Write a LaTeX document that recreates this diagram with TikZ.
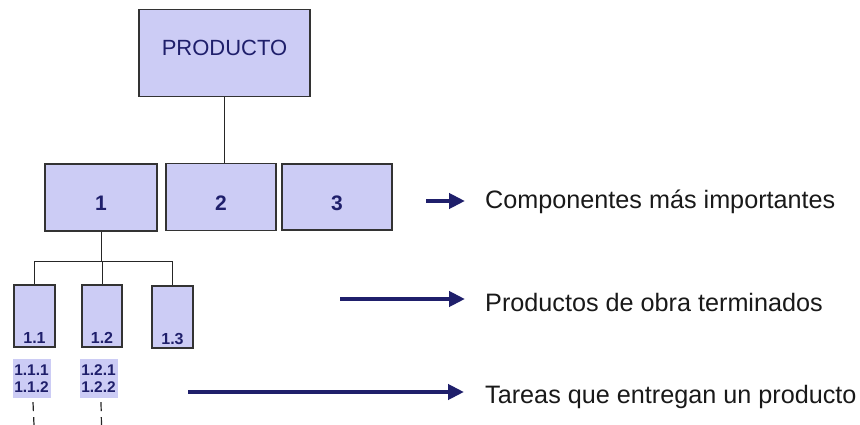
\documentclass[tikz,border=0pt]{standalone}
\usepackage{fontspec}
\setmainfont{Liberation Sans}
\usetikzlibrary{arrows.meta}
\definecolor{boxfill}{HTML}{CCCCF5}
\definecolor{navy}{HTML}{1F1F6B}
\begin{document}
\begin{tikzpicture}[x=1pt,y=-1pt,
  box/.style={draw=black!80, line width=1.3pt, fill=boxfill, rectangle, inner sep=0pt},
  boxtext/.style={text=navy, inner sep=0pt},
  smalltext/.style={anchor=south, inner sep=4pt, text=navy, font=\fontsize{16}{18}\selectfont\bfseries},
  tag/.style={fill=boxfill, inner sep=1pt, align=left, text=navy, font=\fontsize{15.5}{17.5}\selectfont\bfseries},
  conn/.style={line width=1pt, black!85},
  dashconn/.style={line width=1.2pt, black!85, dash pattern=on 9pt off 6pt},
  bigarrow/.style={draw=navy, line width=4.5pt, -{Triangle[length=16pt,width=15pt]}},
  note/.style={anchor=base west, inner sep=0pt, font=\fontsize{25.2}{28}\selectfont, text=black!90},
  ]
\useasboundingbox (0,0) rectangle (860,425);
% top
\node[box, minimum width=171pt, minimum height=87pt,
  label={[boxtext, yshift=5pt, font=\fontsize{22}{24}\selectfont]center:PRODUCTO}] (prod) at (224.5,53) {};
% level 1
\node[box, minimum width=112pt, minimum height=67pt,
  label={[boxtext, yshift=-6pt, font=\fontsize{21}{24}\selectfont\bfseries]center:1}] (c1) at (101,197.5) {};
\node[box, minimum width=110pt, minimum height=67pt,
  label={[boxtext, yshift=-6pt, font=\fontsize{21}{24}\selectfont\bfseries]center:2}] (c2) at (221,197) {};
\node[box, minimum width=110pt, minimum height=66pt,
  label={[boxtext, yshift=-6pt, font=\fontsize{21}{24}\selectfont\bfseries]center:3}] (c3) at (337,197) {};
% level 2
\node[box, minimum width=41pt, minimum height=62pt,
  label={[smalltext]south:1.1}] (s1) at (34.5,316) {};
\node[box, minimum width=40pt, minimum height=62pt,
  label={[smalltext]south:1.2}] (s2) at (102,316) {};
\node[box, minimum width=41pt, minimum height=62pt,
  label={[smalltext]south:1.3}] (s3) at (172.5,317) {};
% level 3 tags
\node[tag, minimum width=38pt, minimum height=39pt] (t1) at (31.5,378.5) {1.1.1\\1.1.2};
\node[tag, minimum width=38pt, minimum height=39pt] (t2) at (98.5,378.5) {1.2.1\\1.2.2};
\coordinate (e1) at (34,425);
\coordinate (e2) at (101.5,425);
% connectors
\draw[conn] (prod.south) -- (prod.south |- c2.north);
\coordinate (bar) at (0,261);
\draw[conn] (c1.south) -- (c1.south |- bar);
\draw[conn] (s1.north |- bar) -- (s3.north |- bar);
\draw[conn] (s1.north |- bar) -- (s1.north);
\draw[conn] (s2.north |- bar) -- (s2.north);
\draw[conn] (s3.north |- bar) -- (s3.north);
\draw[dashconn] ([xshift=1.5pt,yshift=-4pt]t1.south) -- (e1);
\draw[dashconn] ([xshift=2.5pt,yshift=-4pt]t2.south) -- (e2);
% notes
\node[note] (n1) at (485,208) {Componentes más importantes};
\node[note] (n2) at (485,311) {Productos de obra terminados};
\node[note] (n3) at (485,403) {Tareas que entregan un producto};
\coordinate (a1) at (426,201);
\coordinate (a2) at (340,299);
\coordinate (a3) at (188,392);
\draw[bigarrow] (a1) -- (a1 -| 465,0);
\draw[bigarrow] (a2) -- (a2 -| 465,0);
\draw[bigarrow] (a3) -- (a3 -| 464,0);
\end{tikzpicture}
\end{document}
